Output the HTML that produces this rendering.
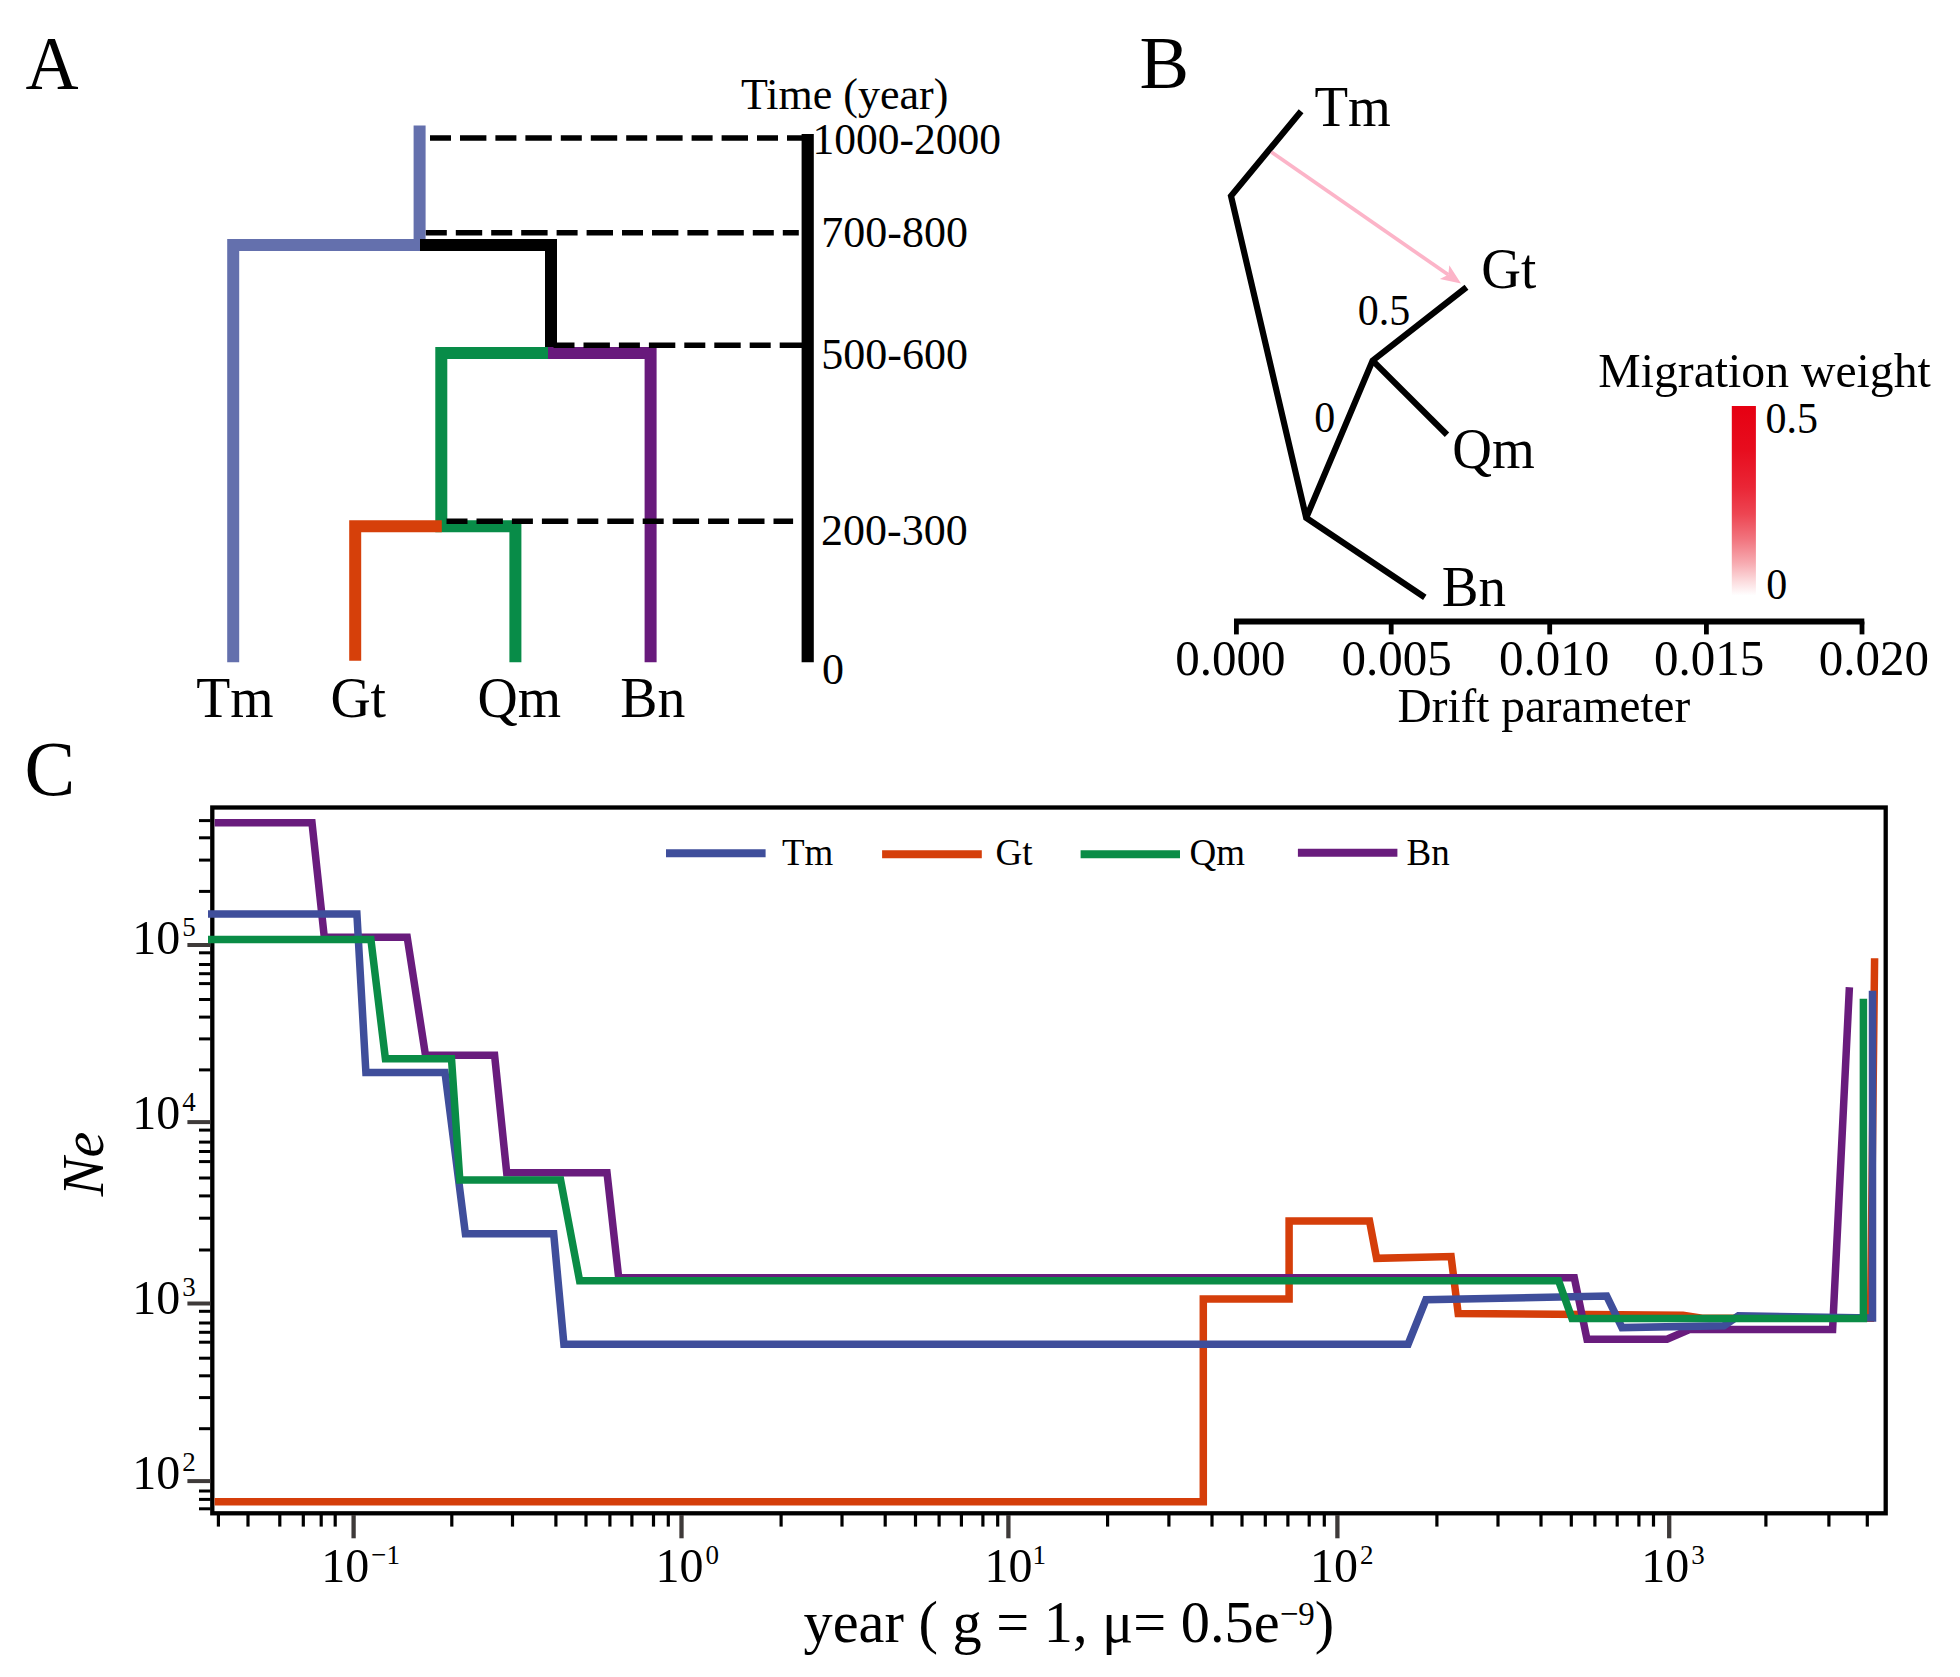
<!DOCTYPE html>
<html lang="en"><head><meta charset="utf-8"><title>Figure</title>
<style>
html,body{margin:0;padding:0;background:#fff;}
body{width:1960px;height:1677px;overflow:hidden;}
svg{display:block;}
text{font-family:"Liberation Serif",serif;fill:#000;}
</style></head><body>
<svg width="1960" height="1677" viewBox="0 0 1960 1677">
<rect x="0" y="0" width="1960" height="1677" fill="#fff"/>

<g id="panelA" fill="none" stroke-linecap="butt" stroke-linejoin="miter">
<path d="M419.6 125.5V245H233.2V662.2" stroke="#6470ad" stroke-width="12"/>
<path d="M548 353H441.3V526.3H515.4V662.2" stroke="#088c48" stroke-width="12"/>
<path d="M441.8 526.3H355.2V660.7" stroke="#d6400a" stroke-width="12"/>
<path d="M548 353H650.6V662.2" stroke="#681a7c" stroke-width="12"/>
<path d="M420 245H551V347" stroke="#000" stroke-width="12"/>
<g stroke="#000" stroke-width="5.6">
<line x1="430" y1="138" x2="802" y2="138" stroke-dasharray="21 9 26.4 9"/>
<line x1="425.8" y1="232.7" x2="798.8" y2="232.7" stroke-dasharray="21 9 26.4 9"/>
<line x1="553.5" y1="345.2" x2="802" y2="345.2" stroke-dasharray="21 9 26.4 9"/>
<line x1="446.5" y1="521.2" x2="793.1" y2="521.2" stroke-dasharray="21 9 26.4 9"/>
</g>
<line x1="807.7" y1="134" x2="807.7" y2="662.3" stroke="#000" stroke-width="12.2"/>
</g>
<text transform="translate(25.6 89.1) scale(1 1.035)" font-size="73.5">A</text>
<text transform="translate(741 108.6) scale(1 1.03)" font-size="44">Time (year)</text>
<g font-size="44">
<text transform="translate(812.5 153.9) scale(1 1.03)" textLength="188.6" lengthAdjust="spacingAndGlyphs">1000-2000</text>
<text transform="translate(821.3 247.1) scale(1 1.03)">700-800</text>
<text transform="translate(821.3 368.9) scale(1 1.03)">500-600</text>
<text transform="translate(821.1 545.4) scale(1 1.03)">200-300</text>
<text transform="translate(822 684.3) scale(1 1.03)">0</text>
</g>
<g font-size="55.7">
<text transform="translate(196.2 716.5) scale(1 1.03)">Tm</text>
<text transform="translate(330.4 716.5) scale(1 1.03)">Gt</text>
<text transform="translate(477.5 716.5) scale(1 1.03)">Qm</text>
<text transform="translate(620.3 716.5) scale(1 1.03)">Bn</text>
</g>
<g id="panelB" fill="none" stroke="#000" stroke-width="6.2" stroke-linecap="butt" stroke-linejoin="miter">
<path d="M1301.1 111.3L1231 196L1306.2 517.8L1424.8 597.3"/>
<path d="M1306.2 517.8L1372.6 360.6L1466.5 287.3"/>
<path d="M1372.6 360.6L1447 434.8"/>
<path d="M1234 621.5H1864.3" stroke-width="6"/>
<line x1="1236.4" y1="621.5" x2="1236.4" y2="634.4" stroke-width="4.8"/>
<line x1="1391.2" y1="621.5" x2="1391.2" y2="634.4" stroke-width="4.8"/>
<line x1="1549.7" y1="621.5" x2="1549.7" y2="634.4" stroke-width="4.8"/>
<line x1="1706.4" y1="621.5" x2="1706.4" y2="634.4" stroke-width="4.8"/>
<line x1="1862" y1="621.5" x2="1862" y2="634.4" stroke-width="4.8"/>
</g>
<line x1="1271.3" y1="152.1" x2="1448.3" y2="274.8" stroke="#fcb4c8" stroke-width="3.7"/>
<path d="M1461 283.6L1439.8 279.1L1448.3 274.8L1449.3 265.3Z" fill="#fcb4c8"/>
<text transform="translate(1139.4 88) scale(1 1)" font-size="74.3">B</text>
<g font-size="55">
<text transform="translate(1314.4 126.3) scale(1 1.03)">Tm</text>
<text transform="translate(1481.2 287.8) scale(1 1.03)">Gt</text>
<text transform="translate(1452.3 468) scale(1 1.03)">Qm</text>
<text transform="translate(1441.8 606.3) scale(1 1.03)">Bn</text>
</g>
<g font-size="42">
<text transform="translate(1357.7 324.5) scale(1 1.03)">0.5</text>
<text transform="translate(1314.2 432.3) scale(1 1.03)">0</text>
<text transform="translate(1765.6 432.7) scale(1 1.03)">0.5</text>
<text transform="translate(1766.2 599.3) scale(1 1.03)">0</text>
</g>
<g font-size="49">
<text transform="translate(1175.2 674.6) scale(1 1.03)">0.000</text>
<text transform="translate(1341.4 674.6) scale(1 1.03)">0.005</text>
<text transform="translate(1499 674.6) scale(1 1.03)">0.010</text>
<text transform="translate(1654 674.6) scale(1 1.03)">0.015</text>
<text transform="translate(1818.7 674.6) scale(1 1.03)">0.020</text>
</g>
<text transform="translate(1397.5 721.8) scale(1 1.03)" font-size="47.3">Drift parameter</text>
<text transform="translate(1598.3 387.2) scale(1 1.03)" font-size="47.7">Migration weight</text>
<defs><linearGradient id="mw" x1="0" y1="0" x2="0" y2="1"><stop offset="0" stop-color="#e60012"/><stop offset="0.23" stop-color="#e70d1e"/><stop offset="0.43" stop-color="#ea2636"/><stop offset="0.57" stop-color="#ed4552"/><stop offset="0.7" stop-color="#f1737d"/><stop offset="0.83" stop-color="#f7abb1"/><stop offset="0.93" stop-color="#fcdee0"/><stop offset="1" stop-color="#ffffff"/></linearGradient></defs>
<rect x="1731.8" y="406" width="24.1" height="189.4" fill="url(#mw)"/>
<text transform="translate(24.4 795) scale(1 1.034)" font-size="76">C</text>
<rect x="212.3" y="807.5" width="1673.4" height="705.8" fill="none" stroke="#000" stroke-width="4.3"/>
<g stroke="#3e3a39" stroke-width="4">
<line x1="187.4" y1="945" x2="210.5" y2="945"/>
<line x1="187.4" y1="1122.1" x2="210.5" y2="1122.1"/>
<line x1="187.4" y1="1303.5" x2="210.5" y2="1303.5"/>
<line x1="187.4" y1="1481.1" x2="210.5" y2="1481.1"/>
</g>
<g stroke="#000" stroke-width="3">
<line x1="199" y1="891.4" x2="210.5" y2="891.4"/>
<line x1="199" y1="860.1" x2="210.5" y2="860.1"/>
<line x1="199" y1="837.8" x2="210.5" y2="837.8"/>
<line x1="199" y1="820.6" x2="210.5" y2="820.6"/>
<line x1="199" y1="1069.9" x2="210.5" y2="1069.9"/>
<line x1="199" y1="1038.9" x2="210.5" y2="1038.9"/>
<line x1="199" y1="1017.1" x2="210.5" y2="1017.1"/>
<line x1="199" y1="999.5" x2="210.5" y2="999.5"/>
<line x1="199" y1="983.6" x2="210.5" y2="983.6"/>
<line x1="199" y1="973.7" x2="210.5" y2="973.7"/>
<line x1="199" y1="964.5" x2="210.5" y2="964.5"/>
<line x1="199" y1="952.8" x2="210.5" y2="952.8"/>
<line x1="199" y1="1250.0" x2="210.5" y2="1250.0"/>
<line x1="199" y1="1218.2" x2="210.5" y2="1218.2"/>
<line x1="199" y1="1195.9" x2="210.5" y2="1195.9"/>
<line x1="199" y1="1178.0" x2="210.5" y2="1178.0"/>
<line x1="199" y1="1161.6" x2="210.5" y2="1161.6"/>
<line x1="199" y1="1151.5" x2="210.5" y2="1151.5"/>
<line x1="199" y1="1142.1" x2="210.5" y2="1142.1"/>
<line x1="199" y1="1130.1" x2="210.5" y2="1130.1"/>
<line x1="199" y1="1428.7" x2="210.5" y2="1428.7"/>
<line x1="199" y1="1397.6" x2="210.5" y2="1397.6"/>
<line x1="199" y1="1375.8" x2="210.5" y2="1375.8"/>
<line x1="199" y1="1358.2" x2="210.5" y2="1358.2"/>
<line x1="199" y1="1342.2" x2="210.5" y2="1342.2"/>
<line x1="199" y1="1332.3" x2="210.5" y2="1332.3"/>
<line x1="199" y1="1323.0" x2="210.5" y2="1323.0"/>
<line x1="199" y1="1311.3" x2="210.5" y2="1311.3"/>
<line x1="199" y1="1491.0" x2="210.5" y2="1491.0"/>
<line x1="199" y1="1499.4" x2="210.5" y2="1499.4"/>
<line x1="199" y1="1508.8" x2="210.5" y2="1508.8"/>
</g>
<g stroke="#3e3a39" stroke-width="4.3">
<line x1="353.6" y1="1515" x2="353.6" y2="1538.3"/>
<line x1="681.5" y1="1515" x2="681.5" y2="1538.3"/>
<line x1="1008.4" y1="1515" x2="1008.4" y2="1538.3"/>
<line x1="1337.4" y1="1515" x2="1337.4" y2="1538.3"/>
<line x1="1669.2" y1="1515" x2="1669.2" y2="1538.3"/>
</g>
<g stroke="#000" stroke-width="3.2">
<line x1="218.4" y1="1515" x2="218.4" y2="1526.6"/>
<line x1="248.0" y1="1515" x2="248.0" y2="1526.6"/>
<line x1="279.8" y1="1515" x2="279.8" y2="1526.6"/>
<line x1="303.3" y1="1515" x2="303.3" y2="1526.6"/>
<line x1="321.2" y1="1515" x2="321.2" y2="1526.6"/>
<line x1="335.2" y1="1515" x2="335.2" y2="1526.6"/>
<line x1="451.8" y1="1515" x2="451.8" y2="1526.6"/>
<line x1="512.5" y1="1515" x2="512.5" y2="1526.6"/>
<line x1="555.9" y1="1515" x2="555.9" y2="1526.6"/>
<line x1="586.0" y1="1515" x2="586.0" y2="1526.6"/>
<line x1="609.9" y1="1515" x2="609.9" y2="1526.6"/>
<line x1="631.9" y1="1515" x2="631.9" y2="1526.6"/>
<line x1="653.5" y1="1515" x2="653.5" y2="1526.6"/>
<line x1="668.3" y1="1515" x2="668.3" y2="1526.6"/>
<line x1="781.1" y1="1515" x2="781.1" y2="1526.6"/>
<line x1="842.0" y1="1515" x2="842.0" y2="1526.6"/>
<line x1="885.2" y1="1515" x2="885.2" y2="1526.6"/>
<line x1="915.5" y1="1515" x2="915.5" y2="1526.6"/>
<line x1="939.1" y1="1515" x2="939.1" y2="1526.6"/>
<line x1="961.4" y1="1515" x2="961.4" y2="1526.6"/>
<line x1="982.9" y1="1515" x2="982.9" y2="1526.6"/>
<line x1="997.7" y1="1515" x2="997.7" y2="1526.6"/>
<line x1="1107.6" y1="1515" x2="1107.6" y2="1526.6"/>
<line x1="1168.9" y1="1515" x2="1168.9" y2="1526.6"/>
<line x1="1212.0" y1="1515" x2="1212.0" y2="1526.6"/>
<line x1="1242.0" y1="1515" x2="1242.0" y2="1526.6"/>
<line x1="1265.3" y1="1515" x2="1265.3" y2="1526.6"/>
<line x1="1287.9" y1="1515" x2="1287.9" y2="1526.6"/>
<line x1="1309.2" y1="1515" x2="1309.2" y2="1526.6"/>
<line x1="1324.3" y1="1515" x2="1324.3" y2="1526.6"/>
<line x1="1436.9" y1="1515" x2="1436.9" y2="1526.6"/>
<line x1="1498.0" y1="1515" x2="1498.0" y2="1526.6"/>
<line x1="1541.0" y1="1515" x2="1541.0" y2="1526.6"/>
<line x1="1571.3" y1="1515" x2="1571.3" y2="1526.6"/>
<line x1="1594.9" y1="1515" x2="1594.9" y2="1526.6"/>
<line x1="1617.2" y1="1515" x2="1617.2" y2="1526.6"/>
<line x1="1638.9" y1="1515" x2="1638.9" y2="1526.6"/>
<line x1="1653.5" y1="1515" x2="1653.5" y2="1526.6"/>
<line x1="1765.9" y1="1515" x2="1765.9" y2="1526.6"/>
<line x1="1828.9" y1="1515" x2="1828.9" y2="1526.6"/>
<line x1="1867.3" y1="1515" x2="1867.3" y2="1526.6"/>
</g>
<text transform="translate(132.3 953.7) scale(1 1.03)" font-size="48">10<tspan font-size="27" dx="2" dy="-17">5</tspan></text>
<text transform="translate(132.3 1128.8) scale(1 1.03)" font-size="48">10<tspan font-size="27" dx="2" dy="-17">4</tspan></text>
<text transform="translate(132.3 1313.9) scale(1 1.03)" font-size="48">10<tspan font-size="27" dx="2" dy="-17">3</tspan></text>
<text transform="translate(132.3 1489) scale(1 1.03)" font-size="48">10<tspan font-size="27" dx="2" dy="-17">2</tspan></text>
<text transform="translate(321.3 1582) scale(1 1.03)" font-size="48">10<tspan font-size="27" dx="2" dy="-17">−1</tspan></text>
<text transform="translate(655.6 1582) scale(1 1.03)" font-size="48">10<tspan font-size="27" dx="2" dy="-17">0</tspan></text>
<text transform="translate(984.6 1582) scale(1 1.03)" font-size="48">10<tspan font-size="27" dx="0" dy="-17">1</tspan></text>
<text transform="translate(1310 1582) scale(1 1.03)" font-size="48">10<tspan font-size="27" dx="2" dy="-17">2</tspan></text>
<text transform="translate(1641.3 1582) scale(1 1.03)" font-size="48">10<tspan font-size="27" dx="2" dy="-17">3</tspan></text>
<text transform="translate(803.5 1642.3) scale(1 1.03)" font-size="58.35">year ( g = 1, μ= 0.5e<tspan font-size="33" dy="-17">−9</tspan><tspan dy="17">)</tspan></text>
<text transform="translate(102.9 1164) rotate(-90) scale(1 1.03)" text-anchor="middle" font-size="58" font-style="italic">Ne</text>
<path d="M214.6 1501.7L1203.3 1501.7L1203.3 1299.1L1289.1 1299.1L1289.1 1220.9L1369.5 1220.9L1376.6 1258.3L1451.1 1256.5L1458.2 1313.6L1683 1315.2L1702 1318.3L1870.5 1318.3L1874.6 958.3" fill="none" stroke="#d53e0a" stroke-width="7.5" stroke-linejoin="miter" stroke-miterlimit="10" stroke-linecap="butt"/>
<path d="M214.6 822.8L312 822.8L324.3 937.3L407.2 937.3L425.5 1055.3L494.6 1055.3L506.7 1172.7L607 1172.7L618.7 1277.8L1574.3 1277.8L1587 1339.2L1667 1339.2L1689.4 1329.5L1832.6 1329.5L1849.4 987.2" fill="none" stroke="#691c7d" stroke-width="7.5" stroke-linejoin="miter" stroke-miterlimit="10" stroke-linecap="butt"/>
<path d="M208 914L356.9 914L365.9 1072.6L445 1072.6L465.4 1233.7L553.7 1233.7L563.9 1344.2L1408.1 1344.2L1425.9 1299.8L1606.7 1296.1L1622 1327.6L1724 1325.7L1738.4 1315.8L1872.5 1318L1872.5 990.7" fill="none" stroke="#3f4e9b" stroke-width="7.5" stroke-linejoin="miter" stroke-miterlimit="10" stroke-linecap="butt"/>
<path d="M208 939.5L370.9 939.5L385.4 1058.8L451.5 1058.8L459.8 1180L560.6 1180L579.6 1280.7L1558.6 1280.7L1572 1318.5L1863.4 1318.5L1863.4 998.8" fill="none" stroke="#0a8c46" stroke-width="7.5" stroke-linejoin="miter" stroke-miterlimit="10" stroke-linecap="butt"/>
<g stroke-width="8" fill="none">
<line x1="666" y1="853.3" x2="765.6" y2="853.3" stroke="#3f4e9b"/>
<line x1="882.1" y1="854.3" x2="981.8" y2="854.3" stroke="#d53e0a"/>
<line x1="1080.6" y1="854.3" x2="1180" y2="854.3" stroke="#0a8c46"/>
<line x1="1297.9" y1="852.8" x2="1397.4" y2="852.8" stroke="#691c7d"/>
</g>
<g font-size="37">
<text transform="translate(781.9 865) scale(1 1.03)">Tm</text>
<text transform="translate(995.6 865) scale(1 1.03)">Gt</text>
<text transform="translate(1189.5 865) scale(1 1.03)">Qm</text>
<text transform="translate(1406.6 865) scale(1 1.03)">Bn</text>
</g>
</svg></body></html>
